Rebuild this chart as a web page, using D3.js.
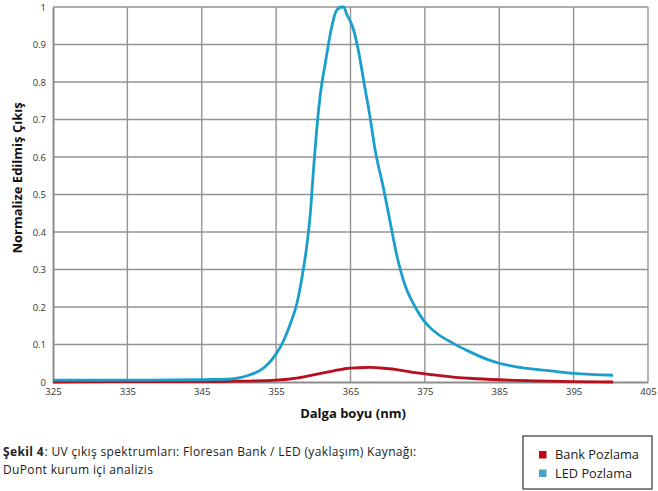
<!DOCTYPE html>
<html>
<head>
<meta charset="utf-8">
<script src="https://cdn.jsdelivr.net/npm/d3@7"></script>
<style>
  body { margin: 0; background: #fff; }
  svg { display: block; font-family: "Open Sans", sans-serif; }
</style>
</head>
<body>
<script>
// Values

var xTicks = [325, 335, 345, 355, 365, 375, 385, 395, 405];
var yTicks = [0, 0.1, 0.2, 0.3, 0.4, 0.5, 0.6, 0.7, 0.8, 0.9, 1];

var ledNm = [325, 335, 345, 347, 349, 350, 351, 352, 353, 354, 355, 356, 357, 357.8, 358.4, 359.1, 359.6, 360, 360.4, 360.9, 361.7, 362.4, 363.1, 363.8, 364.1, 364.5, 364.9, 365.4, 366.1, 366.8, 367.6, 368.3, 369.4, 370.3, 371.2, 372.3, 373.7, 374.8, 375.7, 376.6, 378.8, 381, 383.3, 385, 387.8, 392.2, 395, 400.3];
var ledVal = [0.005, 0.005, 0.006, 0.007, 0.008, 0.011, 0.016, 0.023, 0.033, 0.05, 0.075, 0.11, 0.16, 0.21, 0.27, 0.36, 0.45, 0.56, 0.66, 0.76, 0.86, 0.94, 0.99, 1.0, 1.0, 0.98, 0.965, 0.94, 0.88, 0.80, 0.71, 0.62, 0.52, 0.43, 0.34, 0.26, 0.20, 0.165, 0.145, 0.13, 0.103, 0.081, 0.061, 0.05, 0.039, 0.029, 0.023, 0.018];

var bankNm = [325, 335, 345, 349, 355, 358, 360, 362, 363.6, 364.5, 366, 367.6, 369.8, 371.2, 373, 375.7, 378.8, 381, 385, 390, 395, 400.3];
var bankVal = [0.0, 0.001, 0.001, 0.002, 0.005, 0.011, 0.019, 0.027, 0.033, 0.036, 0.038, 0.039, 0.036, 0.033, 0.027, 0.02, 0.013, 0.01, 0.006, 0.003, 0.001, 0.0];

var seriesNames = ["Bank Pozlama", "LED Pozlama"];
var legendColors = ["#c20418", "#4ba3c3"];
var lineColors = ["#b80f1f", "#1a9fcb"];

var svgWidth = 658;
var svgHeight = 491;
var margin = { top: 7, right: 10, bottom: 109, left: 53 };
var width = 648 - margin.left;
var height = 382 - margin.top;

var svg = d3.select("body")
  .append("svg")
  .attr("width", svgWidth)
  .attr("height", svgHeight);

var chartGroup = svg.append("g")
  .attr("transform", `translate(${margin.left}, ${margin.top})`);

var xScale = d3.scaleLinear().domain([325, 405]).range([0, width]);
var yScale = d3.scaleLinear().domain([0, 1]).range([height, 0]);

// grid
chartGroup.append("g")
  .selectAll("line")
  .data(yTicks.slice(1))
  .enter()
  .append("line")
  .attr("x1", 0)
  .attr("x2", width)
  .attr("y1", d => yScale(d))
  .attr("y2", d => yScale(d))
  .attr("stroke", "#939393")
  .attr("stroke-width", 1.4);

chartGroup.append("g")
  .selectAll("line")
  .data(xTicks.slice(1))
  .enter()
  .append("line")
  .attr("x1", d => xScale(d))
  .attr("x2", d => xScale(d))
  .attr("y1", 0)
  .attr("y2", height)
  .attr("stroke", "#939393")
  .attr("stroke-width", 1.4);

// axes
var xAxis = d3.axisBottom(xScale).tickValues(xTicks).tickSize(0).tickPadding(6);
var yAxis = d3.axisLeft(yScale).tickValues(yTicks).tickSize(0).tickPadding(7)
  .tickFormat(d => d3.format("~g")(d));

var gx = chartGroup.append("g")
  .attr("transform", `translate(0,${height})`)
  .call(xAxis);
var gy = chartGroup.append("g").call(yAxis);

[gx, gy].forEach(function (g) {
  g.select(".domain").attr("stroke", "#8c8c8c").attr("stroke-width", 2);
  g.selectAll("text")
    .attr("font-family", "'Open Sans', sans-serif")
    .attr("font-size", "9.5px")
    .attr("fill", "#333");
});

// lines
var line = d3.line()
  .x(d => xScale(d[0]))
  .y(d => yScale(d[1]))
  .curve(d3.curveMonotoneX);

var bankData = d3.zip(bankNm, bankVal);
var ledData = d3.zip(ledNm, ledVal);

chartGroup.append("path")
  .datum(bankData)
  .attr("d", line)
  .attr("fill", "none")
  .attr("stroke", lineColors[0])
  .attr("stroke-width", 2.8);

chartGroup.append("path")
  .datum(ledData)
  .attr("d", line)
  .attr("fill", "none")
  .attr("stroke", lineColors[1])
  .attr("stroke-width", 2.8);

// axis titles
svg.append("text")
  .attr("x", 353)
  .attr("y", 418)
  .attr("text-anchor", "middle")
  .attr("font-weight", "bold")
  .attr("font-size", "13px")
  .attr("fill", "#111")
  .text("Dalga boyu (nm)");

svg.append("text")
  .attr("transform", "translate(22,178)rotate(-90)")
  .attr("text-anchor", "middle")
  .attr("font-weight", "bold")
  .attr("font-size", "13px")
  .attr("fill", "#111")
  .text("Normalize Edilmiş Çıkış");

// caption: bold label, then the rest placed right after it
var capLabel = svg.append("text")
  .attr("x", 3)
  .attr("y", 456)
  .attr("font-size", "12px")
  .attr("letter-spacing", "0.35px")
  .attr("font-weight", "bold")
  .attr("fill", "#222")
  .text("Şekil 4");

var labelW = capLabel.node().getComputedTextLength();

svg.append("text")
  .attr("x", 3 + labelW + 0.5)
  .attr("y", 456)
  .attr("font-size", "12px")
  .attr("letter-spacing", "0.35px")
  .attr("fill", "#222")
  .text(": UV çıkış spektrumları: Floresan Bank / LED (yaklaşım) Kaynağı:");

svg.append("text")
  .attr("x", 3)
  .attr("y", 473.5)
  .attr("font-size", "12px")
  .attr("letter-spacing", "0.35px")
  .attr("fill", "#222")
  .text("DuPont kurum içi analizis");

// legend
var legend = svg.append("g");
legend.append("rect")
  .attr("x", 523)
  .attr("y", 436)
  .attr("width", 129)
  .attr("height", 53)
  .attr("fill", "#fff")
  .attr("stroke", "#333")
  .attr("stroke-width", 1.2);

var items = legend.selectAll(".item")
  .data(seriesNames)
  .enter()
  .append("g")
  .attr("transform", (d, i) => `translate(539,${451 + i * 18.5})`);

items.append("rect")
  .attr("width", 7.5)
  .attr("height", 7.5)
  .attr("fill", (d, i) => legendColors[i]);

items.append("text")
  .attr("x", 16)
  .attr("y", 8)
  .attr("font-size", "12.8px")
  .attr("fill", "#222")
  .text(d => d);
</script>
</body>
</html>
